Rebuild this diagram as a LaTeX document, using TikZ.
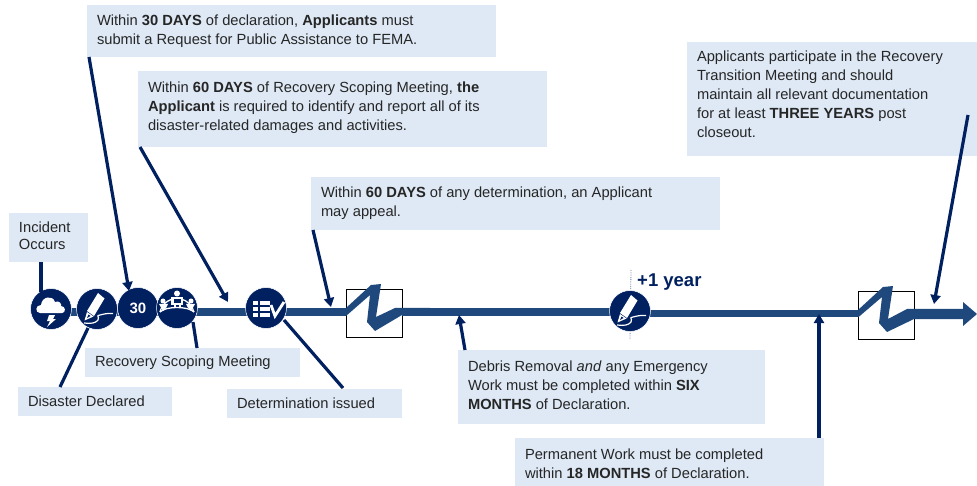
\documentclass[tikz,border=0pt]{standalone}
\usepackage{fontspec}
\setmainfont{Liberation Sans}
\usetikzlibrary{arrows.meta}
\definecolor{boxblue}{HTML}{DEE9F5}
\definecolor{navy}{HTML}{002060}
\definecolor{linecol}{HTML}{1F497D}
\definecolor{txt}{HTML}{262626}
\newcommand\infobox[7]{\node[infobox,anchor=north west] (#1) at (#2,#3) {\parbox[b][#5pt][t]{\dimexpr#4pt-20pt\relax}{\vspace*{#6pt}#7}};}
\tikzset{
 infobox/.style={fill=boxblue,inner xsep=10pt,inner ysep=0pt,text=txt,font=\fontsize{14.7}{19}\selectfont,outer sep=0pt},
 conn/.style={draw=navy,line width=3.2pt},
 connarrow/.style={conn,-{Triangle[length=9pt,width=10pt]}},
 badge/.style={circle,fill=navy,draw=white,line width=0.5pt,minimum size=41pt,inner sep=0pt,text=white,font=\bfseries\fontsize{15}{15}\selectfont},
 breakbox/.style={draw=black,fill=white,line width=0.9pt,minimum width=56pt,minimum height=48pt,inner sep=0pt},
 rail/.style={linecol,line width=7.5pt},
 iconl/.style={draw=white,line width=1.2pt,fill=none},
}
\newcommand\penicon[1]{
 \begin{scope}[shift={(#1)}]
  \fill[white] (1,-16) -- (7.5,-10.5) -- (-3,7) -- (-10,2) -- cycle;
  \fill[white] (-10,3) -- (-3.5,7.5) -- (-12.5,11.5) -- cycle;
  \fill[navy] (-8.5,5.5) -- (-6.5,7) -- (-10,9) -- cycle;
  \draw[iconl] (-13,14) .. controls (-6,15) and (-1,14) .. (1,11) .. controls (3,7) and (-2,7) .. (3,6) .. controls (7,5) and (11,4) .. (16,4.5);
 \end{scope}}
\begin{document}
\begin{tikzpicture}[x=1pt,y=-1pt]
\useasboundingbox (0,0) rectangle (977,486);
% rail
\coordinate (railstart) at (51,312);
\coordinate (railend) at (346,312);
\node[breakbox,anchor=north west] (brk1) at (346,289) {};
\node[breakbox,anchor=north west] (brk2) at (858,291) {};
\draw[rail] (railstart) -- (brk1.west |- railend);
\fill[linecol] (346,308) -- (371,285) -- (381,284) -- (376,317) -- (395,308) -- (430,308) -- (430,316) -- (402,315) -- (375,331) -- (367,322) -- (370,295) -- (346,316) -- cycle;
\coordinate (railmid) at (630,312);
\coordinate (railmidb) at (630,313.5);
\draw[rail] (402,312) -- (railmid);
\draw[rail] (railmidb) -- (858,313.5);
\fill[linecol] (858,310) -- (883,287) -- (893,286) -- (888,319) -- (907,309) -- (963,309) -- (963,302) -- (977,314) -- (963,326) -- (963,319) -- (914,319) -- (887,332) -- (879,323) -- (882,297) -- (858,317.5) -- cycle;
% dotted tick
\coordinate (ticktop) at (631,270);
\coordinate (tickbot) at (630,340);
\draw[linecol!70,line width=0.8pt,densely dotted] (ticktop) -- (tickbot);
% boxes
\infobox{b30}{87}{5}{409}{52}{9.7}{Within \textbf{30 DAYS} of declaration, \textbf{Applicants} must\\submit a Request for Public Assistance to FEMA.}
\infobox{b60}{138}{71}{409}{76}{10.7}{Within \textbf{60 DAYS} of Recovery Scoping Meeting, \textbf{the}\\\textbf{Applicant} is required to identify and report all of its\\disaster-related damages and activities.}
\infobox{bappeal}{311}{177}{409}{53}{9.7}{Within \textbf{60 DAYS} of any determination, an Applicant\\may appeal.}
\infobox{bthree}{687}{42}{290}{114}{8.7}{Applicants participate in the Recovery\\Transition Meeting and should\\maintain all relevant documentation\\for at least \textbf{THREE YEARS} post\\closeout.}
\infobox{bincident}{9}{213}{79}{49}{9}{\baselineskip=17pt Incident\\Occurs}
\infobox{bscoping}{85}{348}{215}{29}{8}{Recovery Scoping Meeting}
\infobox{bdeclared}{18}{387}{154}{29}{8.7}{Disaster Declared}
\infobox{bdeterm}{227}{389}{175}{29}{8.7}{Determination issued}
\infobox{bdebris}{458}{350}{307}{74}{10.7}{Debris Removal \textit{and} any Emergency\\Work must be completed within \textbf{SIX}\\\textbf{MONTHS} of Declaration.}
\infobox{bperm}{515}{438}{309}{48}{10.7}{Permanent Work must be completed\\within \textbf{18 MONTHS} of Declaration.}
% badges
\node[badge] (incident) at (51,309) {};
\node[badge] (declared) at (97,309) {};
\node[badge] (thirty) at (138,308) {30};
\node[badge] (scoping) at (177,308) {};
\node[badge] (determ) at (266,308) {};
\node[badge] (year) at (630,311) {};
\node[anchor=west,text=navy,font=\bfseries\fontsize{18.5}{18}\selectfont,inner sep=0pt] (yearlabel) at (637,282) {+1 year};
% icons
\begin{scope}[shift={(incident.center)}]
 \fill[white] (-11,4) .. controls (-16,4) and (-16,-4) .. (-10,-4) .. controls (-9,-13) and (2,-14) .. (4,-7) .. controls (8,-9) and (11,-5) .. (10,-3) .. controls (15,-3) and (15,4) .. (11,4) -- cycle;
 \fill[white] (-2,6) -- (4,6) -- (2,10) -- (5,10) -- (-4,18) -- (-1,12) -- (-4,12) -- cycle;
\end{scope}
\penicon{declared.center}
\penicon{year.center}
\begin{scope}[shift={(scoping.center)}]
 \draw[white,line width=1.3pt] (-17,4) .. controls (-11,-2) and (11,-2) .. (17,4);
 \draw[white,line width=1.3pt] (-17,4) arc[start angle=193,end angle=347,radius=17.4];
 \fill[white] (0,-14.5) circle (3);
 \fill[white] (-14,-7) circle (2.5);
 \fill[white] (14,-7) circle (2.5);
 \fill[white] (-6,-11) rectangle (6,-3);
 \fill[white] (-3.5,-3) rectangle (-1.5,0);
 \fill[white] (1.5,-3) rectangle (3.5,0);
 \fill[navy] (-3.5,-8.5) rectangle (3.5,-5);
 \fill[white] (-18,-4) -- (-9,-4) -- (-11,0) -- (-14,3) -- cycle;
 \fill[white] (18,-4) -- (9,-4) -- (11,0) -- (14,3) -- cycle;
\end{scope}
\begin{scope}[shift={(determ.center)}]
 \foreach \yy in {-5,1,7}{ \fill[white] (-13,\yy-1.6) rectangle (-8,\yy+1.6); \fill[white] (-6,\yy-1.6) rectangle (4,\yy+1.6);}
 \draw[white,line width=2.8pt] (5,-3) -- (9,8) -- (18,-6);
\end{scope}
% connector end points
\coordinate (a30) at (129,291);
\coordinate (a60) at (228,302);
\coordinate (aappeal) at (331,307);
\coordinate (adebris) at (459,315);
\coordinate (aperm) at (819,314);
\coordinate (athree) at (934,304);
\coordinate (s30) at (89,57);
\coordinate (s60) at (140,147);
\coordinate (sappeal) at (313,230);
\coordinate (sdebris) at (465,350);
\coordinate (sperm) at (819,438);
\coordinate (sthree) at (968,115);
\draw[connarrow] (s30) -- (a30);
\draw[connarrow] (s60) -- (a60);
\draw[connarrow] (sappeal) -- (aappeal);
\draw[connarrow] (sdebris) -- (adebris);
\draw[connarrow] (sperm) -- (aperm);
\draw[connarrow] (sthree) -- (athree);
\coordinate (sinc) at (41,262);
\coordinate (einc) at (41,292);
\coordinate (sdec) at (60,387);
\coordinate (edec) at (88,328);
\coordinate (ssco) at (197,348);
\coordinate (esco) at (193,322);
\coordinate (sdet) at (343,388);
\coordinate (edet) at (284,320);
\draw[conn] (sinc) -- (einc);
\draw[conn] (sdec) -- (edec);
\draw[conn] (ssco) -- (esco);
\draw[conn] (sdet) -- (edet);
\end{tikzpicture}
\end{document}
